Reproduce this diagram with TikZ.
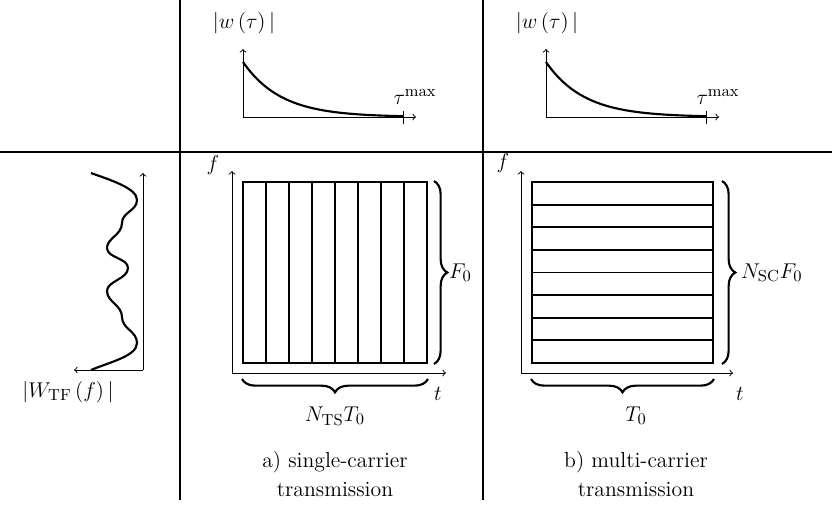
\documentclass[tikz,border=0pt]{standalone}
\usetikzlibrary{decorations.pathreplacing,calc}
\begin{document}
\begin{tikzpicture}[x=0.5618pt,y=-0.5618pt,
  font=\fontsize{12.2}{14}\selectfont,
  sep/.style={line width=0.8pt},
  axis/.style={line width=0.5pt,->},
  curve/.style={line width=1.2pt},
  grid/.style={line width=1.1pt},
  brc/.style={line width=1.2pt,decorate,decoration={brace,amplitude=7.5pt}},
  lbl/.style={inner sep=1pt}]
\useasboundingbox (0,0) rectangle (832,504);
% separators
\draw[sep] (0,152) -- (832,152);
\draw[sep] (180,0) -- (180,500);
\draw[sep] (483,0) -- (483,500);
% top plots
\foreach \dx/\nm in {0/a,303/b}{
  \begin{scope}[xshift=\dx*0.5618pt]
  \coordinate (o\nm) at (243,117);
  \coordinate (ty\nm) at (243,49);
  \coordinate (tx\nm) at (416,117);
  \draw[axis] (o\nm) -- (ty\nm);
  \draw[axis] (o\nm) -- (tx\nm);
  \draw[line width=0.5pt] (403,111) -- (403,124);
  \draw[curve] plot[domain=243:403,samples=60,smooth] (\x,{117-55*exp(-(\x-243)/38)});
  \node[lbl] (w\nm) at (244,23) {$|w\left(\tau\right)|$};
  \node[lbl] (tm\nm) at (415,97) {$\tau^{\max}$};
  \end{scope}
}
% left waveform
\coordinate (wo) at (143,370);
\coordinate (wy) at (143,173);
\coordinate (wx) at (74,370);
\draw[axis] (wo) -- (wy);
\draw[axis] (wo) -- (wx);
\draw[curve] (91,173) .. controls (110,180) and (137,188) .. (137,200)
  .. controls (137,211) and (122,212) .. (122,223)
  .. controls (122,235) and (107,238) .. (107,248)
  .. controls (107,258) and (128,258) .. (128,268)
  .. controls (128,279) and (107,281) .. (107,291)
  .. controls (107,302) and (122,305) .. (122,317)
  .. controls (122,329) and (137,331) .. (137,343)
  .. controls (137,356) and (110,362) .. (91,370);
\node[lbl] (Wl) at (68,392) {$|W_{\mathrm{TF}}\left(f\right)|$};
% grid a
\coordinate (ao) at (232,373);
\coordinate (ay) at (232,171);
\coordinate (ax) at (446,373);
\draw[axis] (ao) -- (ay);
\draw[axis] (ao) -- (ax);
\node (ra) [draw,grid,minimum width=184*0.5618pt,minimum height=181*0.5618pt,inner sep=0pt] at (335,272.5) {};
\foreach \i in {1,...,7}{\draw[grid] (243+\i*23,182) -- (243+\i*23,363);}
\node[lbl] (fa) at (213,165) {$f$};
\node[lbl] (ta) at (438,394) {$t$};
\draw[brc] ($(ra.north east)+(6,0)$) -- ($(ra.south east)+(6,0)$);
\draw[brc] ($(ra.south east)+(0,15)$) -- ($(ra.south west)+(0,15)$);
\node[lbl] (na) at (335,416) {$N_{\mathrm{TS}}T_0$};
\node[lbl,anchor=west] (Fa) at (447,272.5) {$F_0$};
\node[lbl] (ca1) at (335,462) {a) single-carrier};
\node[lbl] (ca2) at (335,490) {transmission};
% grid b
\coordinate (bo) at (521,373);
\coordinate (by) at (521,171);
\coordinate (bx) at (733,373);
\draw[axis] (bo) -- (by);
\draw[axis] (bo) -- (bx);
\node (rb) [draw,grid,minimum width=181*0.5618pt,minimum height=181*0.5618pt,inner sep=0pt] at (622.5,272.5) {};
\foreach \i in {1,...,7}{\draw[grid] (532,182+\i*22.625) -- (713,182+\i*22.625);}
\node[lbl] (fb) at (503,163) {$f$};
\node[lbl] (tb) at (740,394) {$t$};
\draw[brc] ($(rb.north east)+(8,0)$) -- ($(rb.south east)+(8,0)$);
\draw[brc] ($(rb.south east)+(0,15)$) -- ($(rb.south west)+(0,15)$);
\node[lbl] (nb) at (636,416) {$T_0$};
\node[lbl,anchor=west] (Fb) at (739,272.5) {$N_{\mathrm{SC}}F_0$};
\node[lbl] (cb1) at (636,462) {b) multi-carrier};
\node[lbl] (cb2) at (636,490) {transmission};
\end{tikzpicture}
\end{document}
